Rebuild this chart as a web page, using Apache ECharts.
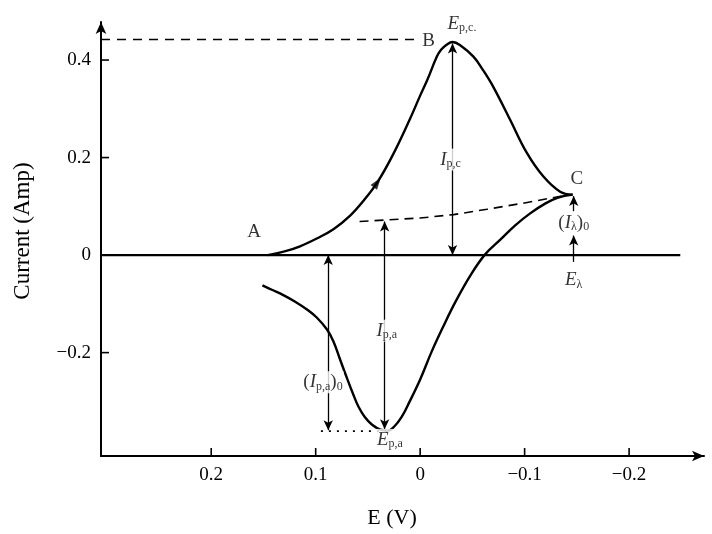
<!DOCTYPE html>
<html><head><meta charset="utf-8">
<script src="https://cdn.jsdelivr.net/npm/echarts@6/dist/echarts.min.js"></script>
<style>html,body{margin:0;padding:0;background:#fff}#c{width:712px;height:534px}</style>
</head><body><div id="c"></div>
<script>
// Axis ranges and ticks
const xMin = -0.2717, xMax = 0.3055;
const yMin = -0.412, yMax = 0.478;
const xTicks = [0.2, 0.1, 0, -0.1, -0.2];
const yTicks = [-0.2, 0, 0.2, 0.4];

// Forward (cathodic) scan A -> B -> C
const forwardE = [0.146, 0.129, 0.115, 0.099, 0.083, 0.067, 0.054, 0.041, 0.026, 0.010, 0.000, -0.007, -0.016, -0.020, -0.025, -0.031, -0.038, -0.051, -0.060, -0.070, -0.086, -0.102, -0.118, -0.134, -0.146];
const forwardI = [0.000, 0.008, 0.018, 0.034, 0.053, 0.081, 0.112, 0.149, 0.206, 0.278, 0.327, 0.360, 0.407, 0.421, 0.431, 0.437, 0.431, 0.407, 0.380, 0.345, 0.278, 0.210, 0.161, 0.130, 0.124];
// Reverse (anodic) scan C -> end
const reverseE = [-0.146, -0.132, -0.120, -0.105, -0.091, -0.077, -0.062, -0.048, -0.034, -0.022, -0.011, 0.000, 0.010, 0.018, 0.025, 0.031, 0.038, 0.046, 0.053, 0.059, 0.064, 0.071, 0.077, 0.083, 0.089, 0.099, 0.108, 0.120, 0.131, 0.142, 0.151];
const reverseI = [0.124, 0.118, 0.106, 0.085, 0.061, 0.032, 0.001, -0.042, -0.095, -0.147, -0.198, -0.255, -0.300, -0.333, -0.352, -0.360, -0.358, -0.348, -0.332, -0.311, -0.286, -0.247, -0.212, -0.177, -0.153, -0.128, -0.112, -0.095, -0.082, -0.071, -0.062];

// Dashed extrapolated baseline
const baseE = [0.058, 0.000, -0.032, -0.064, -0.100, -0.143];
const baseI = [0.069, 0.076, 0.083, 0.094, 0.107, 0.124];
// Dashed peak level, dotted trough level, zero line
const peakE = [0.3055, 0.004];  const peakI = [0.442, 0.442];
const troughE = [0.095, 0.030]; const troughI = [-0.361, -0.361];
const zeroE = [0.3055, -0.249]; const zeroI = [0, 0];

// Vertical measurement arrows
const arrowE    = [-0.031, 0.034, 0.088, -0.147, -0.147];
const arrowFrom = [0.000, 0.069, 0.000, -0.014, 0.090];
const arrowTo   = [0.434, -0.357, -0.359, 0.040, 0.121];
const arrowBoth = [true, true, true, false, false];

// Direction marker on forward scan
const dirE = [0.041];
const dirI = [0.149];

// Annotation labels
const labelTexts = ['A', 'B', 'C', '{i|E}{s|p,c.}', '{i|I}{s|p,c}', '({i|I}{s|λ}){s|0}', '{i|E}{s|λ}', '{i|I}{s|p,a}', '({i|I}{s|p,a}){s|0}', '{i|E}{s|p,a}'];
const labelE = [0.159, -0.008, -0.150, -0.040, -0.029, -0.147, -0.147, 0.032, 0.093, 0.029];
const labelI = [0.048, 0.439, 0.155, 0.474, 0.196, 0.066, -0.052, -0.155, -0.261, -0.379];

const zip = (a, b) => a.map((v, i) => [v, b[i]]);

const font = 'Liberation Serif';
const rich = {
  i: { fontFamily: font, fontStyle: 'italic', fontSize: 19, color: '#000' },
  s: { fontFamily: font, fontSize: 12, color: '#000', padding: [8, 0, 0, 0] }
};

const markData = arrowE.map((e, k) => [
  { coord: [e, arrowFrom[k]], symbol: arrowBoth[k] ? 'arrow' : 'none' },
  { coord: [e, arrowTo[k]], symbol: 'arrow' }
]);

const plain = (name, data, style) => ({
  type: 'line', name, data, symbol: 'none', silent: true, z: 3,
  lineStyle: Object.assign({ color: '#000', width: 1.4 }, style)
});

// Inside tick marks drawn through the axis scales
const TICK_LEN = 8;
const tickSeries = (name, data, horizontal) => ({
  type: 'custom', name, silent: true, clip: false, z: 5,
  data,
  renderItem: (params, api) => {
    const p = api.coord([api.value(0), api.value(1)]);
    return {
      type: 'line',
      shape: horizontal
        ? { x1: p[0], y1: p[1], x2: p[0] + TICK_LEN, y2: p[1] }
        : { x1: p[0], y1: p[1], x2: p[0], y2: p[1] - TICK_LEN },
      style: { stroke: '#000', lineWidth: 1.6 }
    };
  }
});

const option = {
  animation: false,
  backgroundColor: '#fff',
  grid: { left: 101, right: 8, top: 22, bottom: 70 },
  xAxis: {
    type: 'value', inverse: true, min: xMin, max: xMax,
    name: 'E (V)', nameLocation: 'middle', nameGap: 51,
    nameTextStyle: { fontFamily: font, fontSize: 22, color: '#000', padding: [0, 21, 0, 0] },
    axisLine: { show: true, onZero: false, lineStyle: { color: '#000', width: 2 }, symbol: ['none', 'arrow'], symbolSize: [8, 12] },
    axisTick: { show: false },
    axisLabel: { customValues: xTicks, fontFamily: font, fontSize: 19, color: '#000', margin: 10,
      formatter: v => String(v).replace('-', '−') },
    splitLine: { show: false }
  },
  yAxis: {
    type: 'value', min: yMin, max: yMax,
    name: 'Current (Amp)', nameLocation: 'middle', nameGap: 67, nameRotate: 90,
    nameTextStyle: { fontFamily: font, fontSize: 23, color: '#000', padding: [0, 0, 0, 16] },
    axisLine: { show: true, onZero: false, lineStyle: { color: '#000', width: 2 }, symbol: ['none', 'arrow'], symbolSize: [8, 12] },
    axisTick: { show: false },
    axisLabel: { customValues: yTicks, fontFamily: font, fontSize: 19, color: '#000', margin: 10,
      formatter: v => String(v).replace('-', '−') },
    splitLine: { show: false }
  },
  series: [
    tickSeries('xTicks', xTicks.map(v => [v, yMin]), false),
    tickSeries('yTicks', yTicks.map(v => [xMax, v]), true),
    plain('zero', zip(zeroE, zeroI), { width: 2.2 }),
    plain('peak', zip(peakE, peakI), { type: [9, 7], width: 1.4 }),
    plain('trough', zip(troughE, troughI), { type: [2, 6], width: 1.6 }),
    plain('baseline', zip(baseE, baseI), { type: [9, 6], width: 1.6 }),
    Object.assign(plain('forward', zip(forwardE, forwardI), { width: 2.4 }), { smooth: 0.4 }),
    Object.assign(plain('reverse', zip(reverseE, reverseI), { width: 2.4 }), { smooth: 0.4 }),
    {
      type: 'line', name: 'arrows', data: [], silent: true, z: 4,
      markLine: {
        silent: true, symbolSize: [7, 10], animation: false,
        label: { show: false },
        lineStyle: { type: 'solid', color: '#000', width: 1.3 },
        emphasis: { disabled: true },
        data: markData
      }
    },
    {
      type: 'scatter', name: 'direction', data: zip(dirE, dirI), silent: true, z: 6,
      symbol: 'triangle', symbolSize: [8, 12], symbolRotate: -36,
      itemStyle: { color: '#000' }
    },
    {
      type: 'scatter', name: 'labels', silent: true, z: 10, symbolSize: 0,
      data: labelE.map((e, k) => [e, labelI[k], labelTexts[k]]),
      label: {
        show: true, position: 'inside', color: '#000',
        fontFamily: font, fontSize: 19,
        backgroundColor: '#fff', padding: [1, 1],
        formatter: p => p.data[2], rich
      }
    }
  ]
};
const chart = echarts.init(document.getElementById('c'), null, { renderer: 'canvas' });
chart.setOption(option);
</script></body></html>
